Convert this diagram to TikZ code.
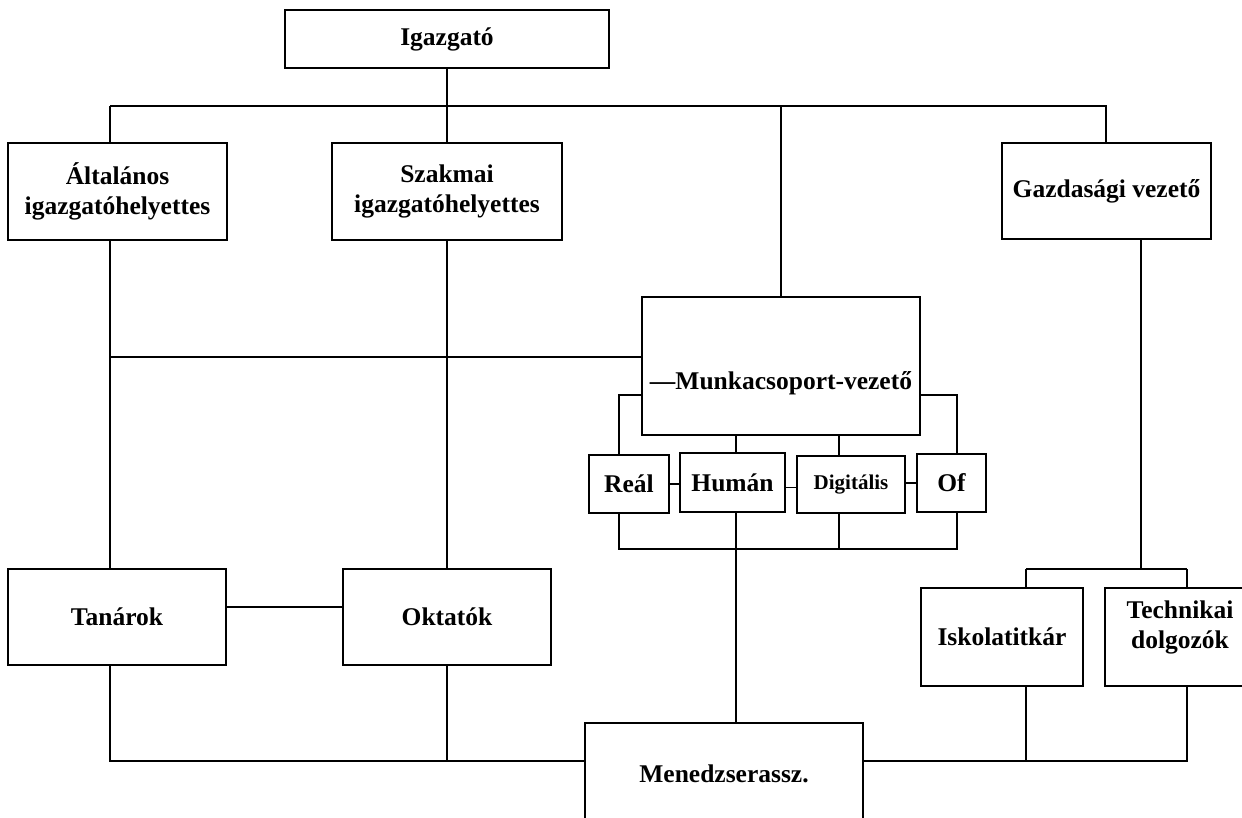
\documentclass[tikz,border=0pt]{standalone}
\usepackage{fontspec}
\setmainfont{Liberation Serif}
\usepackage{tikz}
\newcommand{\drawline}{\draw[line width=1.8pt]}
\newcommand{\boxfont}{\fontsize{25.5}{30}\selectfont\bfseries}
\tikzset{
  orgbox/.style={draw, line width=1.8pt, inner sep=0pt, align=center, font=\boxfont},
  smallbox/.style={orgbox, font=\fontsize{21}{24}\selectfont\bfseries}
}
\begin{document}
\begin{tikzpicture}[x=1pt,y=-1pt]
\useasboundingbox (0,0) rectangle (1242,818);
\clip (0,0) rectangle (1242,818);
% boxes
\node[orgbox, minimum width=324, minimum height=58] (igazgato) at (447,39) {Igazgató};
\node[orgbox, minimum width=219, minimum height=97] (altal) at (117.5,191.5) {Általános\\igazgatóhelyettes};
\node[orgbox, minimum width=230, minimum height=97] (szak) at (447,191.5) {Szakmai\\igazgatóhelyettes};
\node[orgbox, minimum width=209, minimum height=96] (gazd) at (1106.5,191) {Gazdasági vezető};
\node[orgbox, minimum width=278, minimum height=138,
  label={[font=\boxfont, yshift=-17pt]center:—Munkacsoport-vezető}] (munka) at (781,366) {};
\node[orgbox, minimum width=80, minimum height=58] (real) at (629,484) {Reál};
\node[orgbox, minimum width=105, minimum height=59] (human) at (732.5,482.5) {Humán};
\node[smallbox, minimum width=108, minimum height=57] (digit) at (851,484.5) {Digitális};
\node[orgbox, minimum width=69, minimum height=58] (of) at (951.5,483) {Of};
\node[orgbox, minimum width=218, minimum height=96] (tanar) at (117,617) {Tanárok};
\node[orgbox, minimum width=208, minimum height=96] (oktat) at (447,617) {Oktatók};
\node[orgbox, minimum width=162, minimum height=98] (isk) at (1002,637) {Iskolatitkár};
\node[orgbox, minimum width=150, minimum height=98,
  label={[font=\boxfont, align=center, yshift=10pt]center:Technikai\\dolgozók}] (tech) at (1180,637) {};
\node[orgbox, minimum width=278, minimum height=102] (menedz) at (724,774) {Menedzserassz.};
% points where the lines turn
\coordinate (trunkA) at (110,106);
\coordinate (trunkG) at (1106,106);
\coordinate (midA) at (110,357);
\coordinate (subL) at (619,395);
\coordinate (subR) at (957,395);
\coordinate (humx) at (736,0);
\coordinate (digx) at (839,0);
\coordinate (botL) at (619,549);
\coordinate (botR) at (957,549);
\coordinate (gazx) at (1141,569);
\coordinate (iskx) at (1026,569);
\coordinate (techx) at (1187,569);
\coordinate (lowA) at (110,761);
\coordinate (lowT) at (1187,761);
% top level
\drawline (igazgato.south) -- (igazgato.south |- trunkA);
\drawline (trunkA) -- (trunkG) -- (trunkG |- gazd.north);
\drawline (trunkA) -- (trunkA |- altal.north);
\drawline (szak.north |- trunkA) -- (szak.north);
\drawline (munka.north |- trunkA) -- (munka.north);
% left columns
\drawline (altal.south -| trunkA) -- (tanar.north -| trunkA);
\drawline (szak.south) -- (oktat.north);
\drawline (midA) -- (midA -| munka.west);
\drawline ([yshift=10pt]tanar.east) -- ([yshift=10pt]oktat.west);
\drawline (tanar.south -| lowA) -- (lowA) -- (lowA -| menedz.west);
\drawline (oktat.south) -- (oktat.south |- lowA);
% munkacsoportok
\drawline (subL -| munka.west) -- (subL) -- (subL |- real.north);
\drawline (subR -| munka.east) -- (subR) -- (subR |- of.north);
\drawline (munka.south -| humx) -- (human.north -| humx);
\drawline (munka.south -| digx) -- (digit.north -| digx);
\drawline (real.east) -- (real.east -| human.west);
\drawline ([yshift=-5pt]human.east) -- ([yshift=-5pt]human.east -| digit.west);
\drawline (of.west -| digit.east) -- (of.west);
\drawline (real.south -| botL) -- (botL) -- (botR) -- (of.south -| botR);
\drawline (digit.south -| digx) -- (botL -| digx);
\drawline (human.south -| humx) -- (menedz.north -| humx);
% right side
\drawline (gazd.south -| gazx) -- (gazx);
\drawline (iskx) -- (techx);
\drawline (iskx) -- (iskx |- isk.north);
\drawline (techx) -- (techx |- tech.north);
\drawline (isk.south -| iskx) -- (iskx |- lowT);
\drawline (tech.south -| lowT) -- (lowT) -- (lowT -| menedz.east);
\end{tikzpicture}
\end{document}
